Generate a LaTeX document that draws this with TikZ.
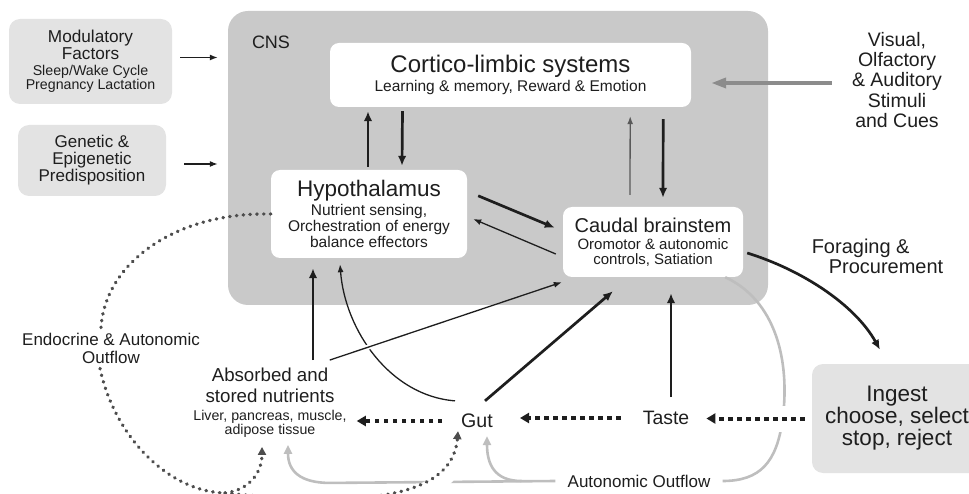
\documentclass[tikz,border=0pt]{standalone}
\usepackage{fontspec}
\setmainfont{Liberation Sans}
\usetikzlibrary{arrows.meta,positioning,calc}

\definecolor{cnsgray}{HTML}{C9C9C9}
\definecolor{sidegray}{HTML}{E3E3E3}
\definecolor{flowgray}{HTML}{BEBEBE}
\definecolor{endogray}{HTML}{4D4D4D}
\definecolor{inkblack}{HTML}{1E1E1E}

\begin{document}
\begin{tikzpicture}[
    x=1pt, y=-1pt,
    every node/.style={text=inkblack},
    region/.style={rectangle, fill=cnsgray, rounded corners=20pt, minimum width=540pt, minimum height=294pt},
    brainbox/.style={rectangle, fill=white, rounded corners=9pt, align=center, inner sep=0pt},
    sidebox/.style={rectangle, fill=sidegray, rounded corners=11pt, align=center, inner sep=0pt},
    freetext/.style={align=center, inner sep=3pt},
    thickarrow/.style={-{Latex[length=10pt,width=8.5pt]}, line width=2.7pt, draw=inkblack},
    thinarrow/.style={-{Latex[length=8pt,width=6pt]}, line width=1.3pt, draw=inkblack},
    stimarrow/.style={-{Triangle[length=15pt,width=10pt]}, line width=3.6pt, draw=black!45},
    dotarrow/.style={-{Triangle[length=9pt,width=10pt]}, line width=4pt, dash pattern=on 4.5pt off 4.5pt, draw=inkblack},
    endoline/.style={line width=3.4pt, line cap=round, dash pattern=on 0.5pt off 6.3pt, draw=endogray},
    endoarrow/.style={endoline, -{Triangle[length=8pt,width=8pt]}},
    grayflow/.style={line width=2.6pt, draw=flowgray},
    grayarrow/.style={grayflow, -{Triangle[length=9pt,width=8pt]}},
    halo/.style={draw=white, line width=#1}
]
\useasboundingbox (0,0) rectangle (969,494);

% CNS region
\node[region] (cns) at (498,158) {};
\node[font=\fontsize{18}{20}\selectfont] (cnsLabel) at (271,42) {CNS};

% Boxes inside the CNS
\node[brainbox, minimum width=361pt, minimum height=64pt, font=\fontsize{15.5}{16}\selectfont] (cortico) at (510.5,75) {
    {\fontsize{24}{26}\selectfont Cortico-limbic systems}\\[2pt]
    Learning \& memory, Reward \& Emotion
};
\node[brainbox, minimum width=196pt, minimum height=88pt, font=\fontsize{15.5}{16}\selectfont] (hypo) at (369,214) {
    {\fontsize{22.5}{24}\selectfont Hypothalamus}\\[2.7pt]
    Nutrient sensing,\\
    Orchestration of energy\\
    balance effectors
};
\node[brainbox, minimum width=180pt, minimum height=70pt, font=\fontsize{15}{15}\selectfont] (caudal) at (653,242) {
    {\fontsize{20}{22}\selectfont Caudal brainstem}\\[2pt]
    Oromotor \& autonomic\\
    controls, Satiation
};

% Boxes outside the CNS
\node[sidebox, minimum width=163pt, minimum height=85pt, font=\fontsize{17.2}{16.5}\selectfont] (modFactors) at (90.5,61.5) {
    Modulatory\\
    Factors\\
    {\fontsize{14.2}{14}\selectfont Sleep/Wake Cycle}\\[-2.5pt]
    {\fontsize{14.2}{14}\selectfont Pregnancy Lactation}
};
\node[sidebox, minimum width=148pt, minimum height=71pt, font=\fontsize{17}{17}\selectfont] (genetic) at (92,160.5) {
    Genetic \&\\
    Epigenetic\\
    Predisposition
};
\node[sidebox, minimum width=170pt, minimum height=109pt, font=\fontsize{22.5}{22}\selectfont] (ingest) at (897,418.5) {
    Ingest\\
    choose, select\\
    stop, reject
};

% Free labels
\node[freetext, font=\fontsize{19.5}{20.2}\selectfont] (stimuli) at (897,80) {Visual,\\Olfactory\\\& Auditory\\Stimuli\\and Cues};
\node[freetext, align=left, font=\fontsize{20}{20}\selectfont] (foraging) at (877.5,256) {Foraging \&\\\hspace*{17pt}Procurement};
\node[freetext, font=\fontsize{14.2}{12.5}\selectfont] (absorbed) at (270,403) {
    {\fontsize{18.7}{20}\selectfont Absorbed and}\\[5.5pt]
    {\fontsize{18.7}{20}\selectfont stored nutrients}\\[6pt]
    Liver, pancreas, muscle,\\
    adipose tissue
};
\node[freetext, font=\fontsize{19.6}{20}\selectfont] (gut) at (477,421) {Gut};
\node[freetext, font=\fontsize{19.4}{20}\selectfont] (taste) at (666,418) {Taste};
\node[freetext, font=\fontsize{17}{18}\selectfont] (endoLabel) at (111,348) {Endocrine \& Autonomic\\Outflow};
\node[freetext, inner xsep=12pt, font=\fontsize{17}{18}\selectfont] (autoOutflow) at (639,481) {Autonomic Outflow};

% Inputs to the CNS
\draw[thinarrow] ($(modFactors.east)+(8,-4)$) -- ($(modFactors.east -| cns.west)+(-10,-4)$);
\draw[thinarrow] ($(genetic.east)+(18,3.5)$) -- ($(genetic.east -| cns.west)+(-10,3.5)$);
\draw[stimarrow] ($(stimuli.west)+(-17,3)$) -- ($(cortico.east)+(20,8)$);

% Cortico-limbic <-> Hypothalamus
\draw[thickarrow] ($(hypo.north)+(-1,-3)$) -- ($(cortico.south)+(-142.5,4)$);
\draw[thickarrow] ($(cortico.south)+(-108,4)$) -- ($(hypo.north)+(33,-4)$);

% Cortico-limbic <-> Caudal brainstem
\draw[thinarrow, draw=black!65] ($(caudal.north)+(-23,-12)$) -- ($(cortico.south east)+(-61,9)$);
\draw[thickarrow] ($(cortico.south east)+(-28,12)$) -- ($(caudal.north)+(10,-9)$);

% Hypothalamus <-> Caudal brainstem
\draw[thickarrow] ($(hypo.north east)+(11,26)$) -- ($(caudal.north west)+(-8,21)$);
\draw[thinarrow] ($(caudal.west)+(-7,12)$) -- ($(hypo.east)+(6,5)$);

% Signals rising from the periphery
\draw[thinarrow] ($(gut.north west)+(-3,-10)$) .. controls +(-65,-5) and +(5,66) .. ($(hypo.south)+(-29,6)$);
\draw[halo=5pt, shorten >=160pt] ($(absorbed.north east)+(-20,-5)$) -- ($(caudal.south west)+(-1,5)$);
\draw[thinarrow] ($(absorbed.north east)+(-20,-5)$) -- ($(caudal.south west)+(-1,5)$);
\draw[thickarrow] ($(absorbed.north)+(43,-5)$) -- ($(hypo.south)+(-56,10)$);
\draw[thickarrow] ($(gut.north east)+(-11,-10)$) -- ($(caudal.south)+(-40,14)$);
\draw[thickarrow] ($(taste.north)+(5,-11)$) -- ($(caudal.south)+(18,16)$);

% Foraging & procurement
\draw[thickarrow] ($(caudal.east)+(4,11)$) .. controls +(55,17) and +(-25,-45) .. ($(ingest.north)+(-17,-14)$);

% Autonomic outflow (gray)
\draw[grayflow] ($(caudal.south east)+(-18,0)$) .. controls +(50,23) and +(8,-60) .. ($(autoOutflow.east)+(60,-61)$)
    .. controls +(-6,42) and +(38,0) .. (autoOutflow.east);
\draw[grayarrow] (autoOutflow.west) -- ($(absorbed.south)+(60,42)$) .. controls +(-30,0) and +(0,26) .. ($(absorbed.south)+(18,4)$);
\draw[grayarrow] ($(autoOutflow.west)+(-34,0)$) .. controls +(-27,0) and +(0,28) .. ($(gut.south)+(10,5)$);

% Ingestion chain
\draw[halo=26pt, shorten <=7pt, shorten >=14pt] (ingest.west) -- (ingest.west -| taste.east);
\draw[dotarrow, shorten <=7pt, shorten >=14pt] (ingest.west) -- (ingest.west -| taste.east);
\draw[dotarrow, shorten <=19pt, shorten >=24pt] (taste.west) -- (taste.west -| gut.east);
\draw[dotarrow, shorten <=16pt, shorten >=7pt] (gut.west) -- (gut.west -| absorbed.east);

% Endocrine & autonomic outflow
\coordinate (endoJoin) at (225,493);
\draw[halo=16pt, shorten <=120pt, shorten >=25pt] (endoJoin) .. controls +(115,12) and +(-6,74) .. (gut.south west);
\draw[endoarrow] (endoJoin) .. controls +(115,12) and +(-6,74) .. (gut.south west);
\draw[endoline] (hypo.west) .. controls +(-96,-2) and +(4,-64) .. ($(endoLabel.north)+(-10,-2)$);
\draw[endoline] ($(endoLabel.south)+(-11,2)$) .. controls +(15,70) and +(-55,-1) .. (endoJoin);
\draw[endoarrow] (endoJoin) .. controls +(25,-3) and +(0,25) .. ($(absorbed.south)+(-8,6)$);

\end{tikzpicture}
\end{document}
